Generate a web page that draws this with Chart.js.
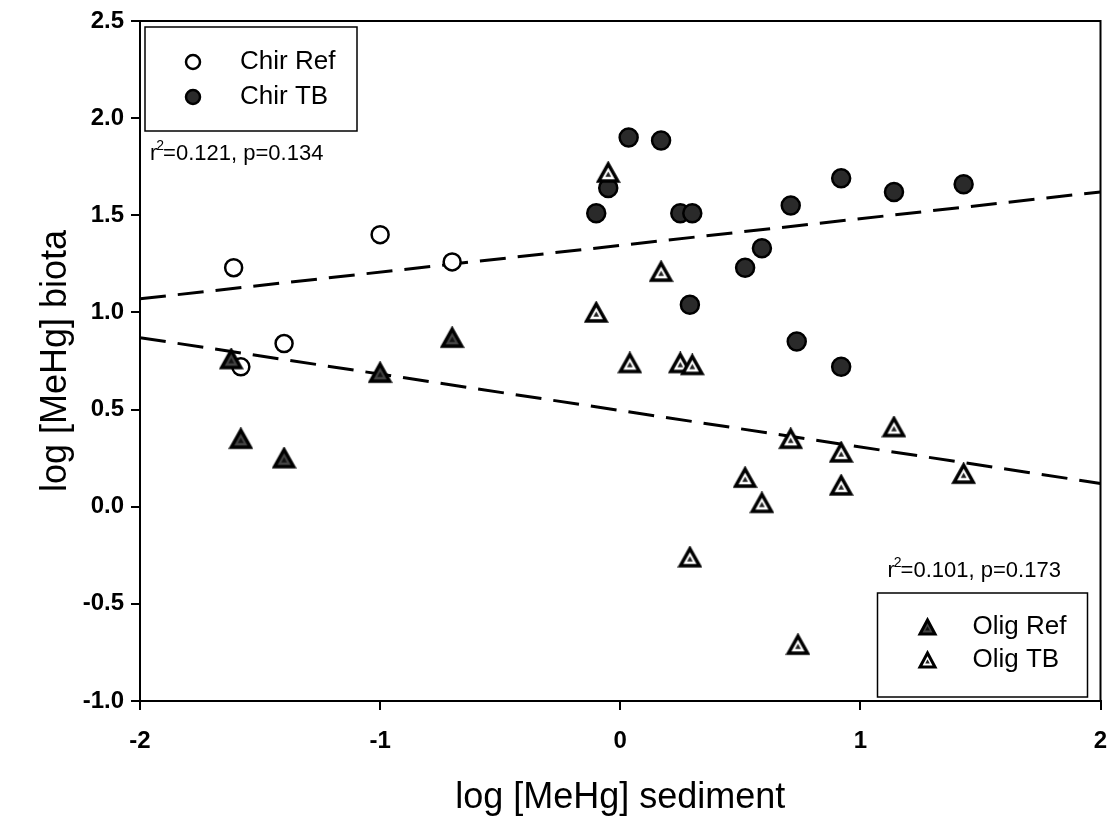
<!DOCTYPE html>
<html>
<head>
<meta charset="utf-8">
<script src="https://cdn.jsdelivr.net/npm/chart.js@4.4.0/dist/chart.umd.min.js"></script>
<style>
  html, body { margin: 0; padding: 0; background: #fff; }
  #wrap { width: 1112px; height: 826px; }
</style>
</head>
<body>
<div id="wrap"><canvas id="mehgChart"></canvas></div>
<script>
// values
var chirRefX = [-1.61, -1.00, -1.40, -1.58, -0.70];
var chirRefY = [1.23, 1.40, 0.84, 0.72, 1.26];

var chirTbX = [0.035, 0.17, -0.05, -0.10, 0.25, 0.30, 0.71, 0.92, 1.14, 1.43, 0.59, 0.52, 0.29, 0.735, 0.92];
var chirTbY = [1.90, 1.885, 1.64, 1.51, 1.51, 1.51, 1.55, 1.69, 1.62, 1.66, 1.33, 1.23, 1.04, 0.85, 0.72];

var oligRefX = [-1.62, -1.58, -1.40, -1.00, -0.70];
var oligRefY = [0.76, 0.35, 0.25, 0.69, 0.87];

var oligTbX = [-0.05, 0.17, -0.10, 0.04, 0.25, 0.30, 0.71, 0.92, 1.14, 0.52, 0.59, 0.92, 0.29, 0.74, 1.43];
var oligTbY = [1.72, 1.21, 1.00, 0.74, 0.74, 0.73, 0.35, 0.28, 0.41, 0.15, 0.02, 0.11, -0.26, -0.71, 0.17];

// regression lines (end points at the axis limits)
var fitX = [-2, 2];
var chirFitY = [1.07, 1.62];
var oligFitY = [0.87, 0.12];

var chirStats = ['0.121', '0.134']; // r2, p
var oligStats = ['0.101', '0.173'];

var xTicks = [-2, -1, 0, 1, 2];
var yTicks = [-1.0, -0.5, 0.0, 0.5, 1.0, 1.5, 2.0, 2.5];

var FONT = '"Liberation Sans", Arial, sans-serif';

function pairs(xs, ys) {
    return xs.map(function (x, i) { return { x: x, y: ys[i] }; });
}

// triangle symbols as small canvases
function triangleMarker(size, fill, innerFill, lw) {
    var c = document.createElement('canvas');
    var h = Math.round(size * 0.9);
    c.width = size + 6;
    c.height = h + 6;
    var g = c.getContext('2d');
    var cx = c.width / 2, top = 3, bot = 3 + h;
    g.beginPath();
    g.moveTo(cx, top);
    g.lineTo(cx + size / 2, bot);
    g.lineTo(cx - size / 2, bot);
    g.closePath();
    g.fillStyle = fill;
    g.fill();
    g.lineWidth = lw;
    g.lineJoin = 'miter';
    g.strokeStyle = '#000';
    g.stroke();
    if (innerFill) {
        var s = size * 0.3, cy = top + h * 0.62;
        g.beginPath();
        g.moveTo(cx, cy - s * 0.55);
        g.lineTo(cx + s / 2, cy + s * 0.4);
        g.lineTo(cx - s / 2, cy + s * 0.4);
        g.closePath();
        g.fillStyle = innerFill;
        g.fill();
    }
    return c;
}

var oligRefMark = triangleMarker(19, '#444', '#111', 3.5);
var oligTbMark = triangleMarker(19, '#fff', '#222', 3.5);
var oligRefKey = triangleMarker(15, '#444', '#111', 3);
var oligTbKey = triangleMarker(15, '#fff', '#222', 3);

function drawStat(ctx, x, y, vals) {
    ctx.fillStyle = '#000';
    ctx.textBaseline = 'middle';
    ctx.textAlign = 'left';
    ctx.font = '22px ' + FONT;
    ctx.fillText('r', x, y);
    var w = ctx.measureText('r').width;
    ctx.font = '14px ' + FONT;
    ctx.fillText('2', x + w - 1, y - 8);
    var w2 = ctx.measureText('2').width;
    ctx.font = '22px ' + FONT;
    ctx.fillText('=' + vals[0] + ', p=' + vals[1], x + w + w2 - 2, y);
}

function drawKey(ctx, left, top, w, h, rows) {
    ctx.lineWidth = 1.5;
    ctx.strokeStyle = '#000';
    ctx.strokeRect(left, top, w, h);
    rows.forEach(function (r) {
        var my = top + r.dy;
        if (r.img) {
            ctx.drawImage(r.img, left + r.mx - r.img.width / 2, my - r.img.height / 2);
        } else {
            ctx.beginPath();
            ctx.arc(left + r.mx, my, 7, 0, Math.PI * 2);
            ctx.fillStyle = r.fill;
            ctx.fill();
            ctx.lineWidth = 2.5;
            ctx.stroke();
        }
        ctx.fillStyle = '#000';
        ctx.font = '26px ' + FONT;
        ctx.textAlign = 'left';
        ctx.textBaseline = 'middle';
        ctx.fillText(r.label, left + r.tx, my);
    });
}

var keysPlugin = {
    id: 'keysAndFrame',
    afterDraw: function (chart) {
        var ctx = chart.ctx, a = chart.chartArea;
        ctx.save();
        ctx.strokeStyle = '#000';
        ctx.lineWidth = 2;
        ctx.strokeRect(a.left, a.top, a.right - a.left, a.bottom - a.top);

        drawKey(ctx, a.left + 5, a.top + 6, 212, 104, [
            { label: 'Chir Ref', fill: '#fff', mx: 48, dy: 35, tx: 95 },
            { label: 'Chir TB', fill: '#2a2a2a', mx: 48, dy: 70, tx: 95 }
        ]);
        drawKey(ctx, a.right - 223, a.bottom - 108, 210, 104, [
            { label: 'Olig Ref', img: oligRefKey, mx: 50, dy: 34, tx: 95 },
            { label: 'Olig TB', img: oligTbKey, mx: 50, dy: 67, tx: 95 }
        ]);

        drawStat(ctx, a.left + 10, a.top + 133, chirStats);
        drawStat(ctx, a.right - 213, a.bottom - 130, oligStats);
        ctx.restore();
    }
};

var tickFont = { family: FONT, size: 24, weight: 'bold' };
var titleFont = { family: FONT, size: 36, lineHeight: 1 };

new Chart(document.getElementById('mehgChart'), {
    type: 'scatter',
    data: {
        datasets: [{
            label: 'Olig TB',
            data: pairs(oligTbX, oligTbY),
            pointStyle: oligTbMark,
            order: 1
        }, {
            label: 'Olig Ref',
            data: pairs(oligRefX, oligRefY),
            pointStyle: oligRefMark,
            order: 2
        }, {
            label: 'Chir TB',
            data: pairs(chirTbX, chirTbY),
            pointStyle: 'circle',
            pointRadius: 9,
            backgroundColor: '#2a2a2a',
            borderColor: '#000',
            borderWidth: 2.5,
            order: 3
        }, {
            label: 'Chir Ref',
            data: pairs(chirRefX, chirRefY),
            pointStyle: 'circle',
            pointRadius: 8.5,
            backgroundColor: '#fff',
            borderColor: '#000',
            borderWidth: 2.5,
            order: 4
        }, {
            label: 'Chir fit',
            data: pairs(fitX, chirFitY),
            showLine: true,
            pointRadius: 0,
            borderColor: '#000',
            borderWidth: 3,
            borderDash: [26, 12],
            order: 5
        }, {
            label: 'Olig fit',
            data: pairs(fitX, oligFitY),
            showLine: true,
            pointRadius: 0,
            borderColor: '#000',
            borderWidth: 3,
            borderDash: [26, 12],
            order: 6
        }]
    },
    options: {
        responsive: true,
        maintainAspectRatio: false,
        animation: false,
        layout: { padding: { left: 0, right: 8, top: 21, bottom: 0 } },
        plugins: {
            legend: { display: false },
            tooltip: { enabled: false }
        },
        scales: {
            x: {
                type: 'linear',
                min: -2,
                max: 2,
                afterFit: function (s) { s.height = 125; s.paddingLeft = 0; s.paddingRight = 0; },
                afterBuildTicks: function (s) { s.ticks = xTicks.map(function (v) { return { value: v }; }); },
                grid: { drawOnChartArea: false, drawTicks: true, tickLength: 9, color: '#000', lineWidth: 2 },
                border: { display: true, color: '#000', width: 2 },
                ticks: { color: '#000', font: tickFont, padding: 17, maxRotation: 0,
                    callback: function (v) { return String(v); } },
                title: { display: true, text: 'log [MeHg] sediment', color: '#000', font: titleFont,
                    padding: { top: 0, bottom: 10 } }
            },
            y: {
                type: 'linear',
                min: -1,
                max: 2.5,
                afterFit: function (s) { s.width = 140; s.paddingTop = 0; s.paddingBottom = 0; },
                afterBuildTicks: function (s) { s.ticks = yTicks.map(function (v) { return { value: v }; }); },
                grid: { drawOnChartArea: false, drawTicks: true, tickLength: 9, color: '#000', lineWidth: 2 },
                border: { display: true, color: '#000', width: 2 },
                ticks: { color: '#000', font: tickFont, padding: 7,
                    callback: function (v) { return v.toFixed(1); } },
                title: { display: true, text: 'log [MeHg] biota', color: '#000', font: titleFont,
                    padding: { top: 38, bottom: 0 } }
            }
        }
    },
    plugins: [keysPlugin]
});
</script>
</body>
</html>
